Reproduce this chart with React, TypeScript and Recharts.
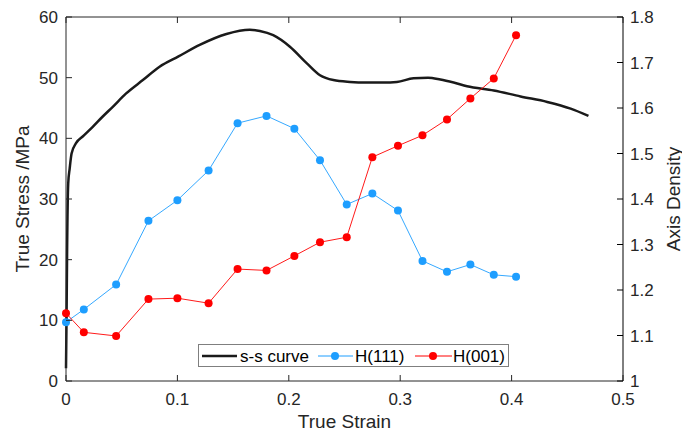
import { Label, Legend, Line, LineChart, XAxis, YAxis } from 'recharts';

// true strain vs true stress (MPa)
const ssStrain = [
  0, 0.0005, 0.001, 0.002, 0.0033, 0.005, 0.009, 0.015, 0.024, 0.033, 0.042, 0.054, 0.069, 0.084,
  0.101, 0.12, 0.144, 0.165, 0.174, 0.186, 0.201, 0.216, 0.228, 0.24, 0.255, 0.27, 0.285, 0.297,
  0.312, 0.325, 0.336, 0.348, 0.36, 0.384, 0.408, 0.432, 0.453, 0.469,
];
const ssStress = [
  2.1, 10.6, 21.6, 32.6, 35.0, 37.5, 39.2, 40.3, 41.9, 43.6, 45.2, 47.4, 49.6, 51.8, 53.5, 55.4,
  57.2, 57.9, 57.7, 57.0, 55.1, 52.4, 50.4, 49.6, 49.3, 49.2, 49.2, 49.3, 49.9, 50.0, 49.7, 49.2,
  48.6, 47.9, 46.9, 46.0, 44.9, 43.7,
];

// sampling strains for the texture measurements
const hStrain = [
  0, 0.016, 0.045, 0.074, 0.1, 0.128, 0.154, 0.18, 0.205, 0.228, 0.252, 0.275, 0.298, 0.32, 0.342,
  0.363, 0.384, 0.404,
];
const h111 = [
  9.7, 11.8, 15.9, 26.4, 29.8, 34.7, 42.5, 43.7, 41.6, 36.4, 29.1, 30.9, 28.1, 19.8, 18.0, 19.2,
  17.5, 17.2,
];
const h001 = [
  1.149, 1.107, 1.099, 1.18, 1.182, 1.171, 1.246, 1.243, 1.275, 1.305, 1.316, 1.492, 1.517, 1.54,
  1.575, 1.621, 1.665, 1.76,
];

const xTicks = [0, 0.1, 0.2, 0.3, 0.4, 0.5];
const stressTicks = [0, 10, 20, 30, 40, 50, 60];
const densityTicks = [1, 1.1, 1.2, 1.3, 1.4, 1.5, 1.6, 1.7, 1.8];

const ssData = ssStrain.map((x, i) => ({ x, y: ssStress[i] }));
const h111Data = hStrain.map((x, i) => ({ x, y: h111[i] }));
const h001Data = hStrain.map((x, i) => ({ x, y: h001[i] }));

const FONT = '"Liberation Sans", Arial, Helvetica, sans-serif';
const AXIS = '#262626';
const BLUE = '#1E9EFF';
const RED = '#FF0000';
const TICK = 6;

// matlab-style ticks: short marks pointing into the plot box
// (tickSize/tickMargin are 0, so x/y handed in sit right on the axis line)
const bottomTick = ({ x, y, payload }: any) => (
  <g>
    <line x1={x} x2={x} y1={y} y2={y - TICK} stroke={AXIS} />
    <text x={x} y={y + 24} textAnchor="middle" fontSize={17} fontFamily={FONT} fill={AXIS}>
      {payload.value}
    </text>
  </g>
);
const topTick = ({ x, y }: any) => <line x1={x} x2={x} y1={y} y2={y + TICK} stroke={AXIS} />;
const leftTick = ({ x, y, payload }: any) => (
  <g>
    <line x1={x} x2={x + TICK} y1={y} y2={y} stroke={AXIS} />
    <text x={x - 8} y={y} dy="0.36em" textAnchor="end" fontSize={17} fontFamily={FONT} fill={AXIS}>
      {payload.value}
    </text>
  </g>
);
const rightTick = ({ x, y, payload }: any) => (
  <g>
    <line x1={x} x2={x - TICK} y1={y} y2={y} stroke="#000" />
    <text x={x + 7} y={y} dy="0.36em" textAnchor="start" fontSize={17} fontFamily={FONT} fill={AXIS}>
      {payload.value}
    </text>
  </g>
);

function LegendBox() {
  return (
    <svg width={311} height={23} style={{ display: 'block' }}>
      <rect x={0.5} y={0.5} width={310} height={22} fill="#fff" stroke="#7f7f7f" />
      <line x1={4} x2={39} y1={12} y2={12} stroke="#1a1a1a" strokeWidth={2.5} />
      <text x={42} y={18} fontSize={17} fontFamily={FONT} fill="#000">
        s-s curve
      </text>
      <line x1={120} x2={155} y1={12} y2={12} stroke={BLUE} strokeWidth={1} />
      <circle cx={137} cy={12} r={4} fill={BLUE} />
      <text x={157} y={18} fontSize={17} fontFamily={FONT} fill="#000">
        H(111)
      </text>
      <line x1={217} x2={254} y1={12} y2={12} stroke={RED} strokeWidth={1} />
      <circle cx={235} cy={12} r={4} fill={RED} />
      <text x={255} y={18} fontSize={17} fontFamily={FONT} fill="#000">
        H(001)
      </text>
    </svg>
  );
}

function App() {
  return (
    <div style={{ position: 'absolute', left: 0, top: 0, background: '#fff' }}>
      <LineChart width={682} height={434} margin={{ top: 16, right: 0, bottom: 0, left: 0 }}>
        <XAxis
          dataKey="x"
          type="number"
          domain={[0, 0.5]}
          ticks={xTicks}
          height={53}
          stroke={AXIS}
          tickLine={false}
          tickSize={0}
          tickMargin={0}
          tick={bottomTick}
        >
          <Label
            content={({ viewBox }: any) => (
              <text
                x={viewBox.x + viewBox.width / 2}
                y={viewBox.y + viewBox.height - 6}
                textAnchor="middle"
                fontSize={19}
                fontFamily={FONT}
                fill={AXIS}
              >
                True Strain
              </text>
            )}
          />
        </XAxis>
        {/* box top edge with inward ticks, no labels; H(001) is plotted on it (same strain scale) */}
        <XAxis
          xAxisId="top"
          orientation="top"
          dataKey="x"
          type="number"
          domain={[0, 0.5]}
          ticks={xTicks}
          height={1}
          stroke={AXIS}
          tickLine={false}
          tickSize={0}
          tickMargin={0}
          tick={topTick}
        />
        <YAxis
          yAxisId="stress"
          domain={[0, 60]}
          ticks={stressTicks}
          width={66}
          stroke={AXIS}
          tickLine={false}
          tickSize={0}
          tickMargin={0}
          tick={leftTick}
        >
          <Label
            content={({ viewBox }: any) => {
              const cx = viewBox.x + 22;
              const cy = viewBox.y + viewBox.height / 2;
              return (
                <text
                  x={cx}
                  y={cy}
                  transform={`rotate(-90 ${cx} ${cy})`}
                  textAnchor="middle"
                  dominantBaseline="central"
                  fontSize={19}
                  fontFamily={FONT}
                  fill={AXIS}
                >
                  True Stress /MPa
                </text>
              );
            }}
          />
        </YAxis>
        <YAxis
          yAxisId="density"
          orientation="right"
          domain={[1, 1.8]}
          ticks={densityTicks}
          width={59}
          stroke="#000"
          tickLine={false}
          tickSize={0}
          tickMargin={0}
          tick={rightTick}
        >
          <Label
            content={({ viewBox }: any) => {
              const cx = viewBox.x + 50;
              const cy = viewBox.y + viewBox.height / 2;
              return (
                <text
                  x={cx}
                  y={cy}
                  transform={`rotate(-90 ${cx} ${cy})`}
                  textAnchor="middle"
                  dominantBaseline="central"
                  fontSize={19}
                  fontFamily={FONT}
                  fill={AXIS}
                >
                  Axis Density
                </text>
              );
            }}
          />
        </YAxis>
        <Legend
          layout="vertical"
          align="center"
          verticalAlign="middle"
          content={() => <LegendBox />}
          wrapperStyle={{ position: 'absolute', left: 198, top: 344, width: 311, height: 23 }}
        />
        <Line
          yAxisId="stress"
          data={ssData}
          dataKey="y"
          type="monotone"
          stroke="#1a1a1a"
          strokeWidth={2.5}
          dot={false}
          isAnimationActive={false}
        />
        <Line
          yAxisId="stress"
          data={h111Data}
          dataKey="y"
          type="linear"
          stroke={BLUE}
          strokeWidth={0.9}
          dot={{ r: 4, fill: BLUE, stroke: 'none' }}
          isAnimationActive={false}
        />
        <Line
          xAxisId="top"
          yAxisId="density"
          data={h001Data}
          dataKey="y"
          type="linear"
          stroke={RED}
          strokeWidth={0.9}
          dot={{ r: 4, fill: RED, stroke: 'none' }}
          isAnimationActive={false}
        />
      </LineChart>
    </div>
  );
}

export default App;
